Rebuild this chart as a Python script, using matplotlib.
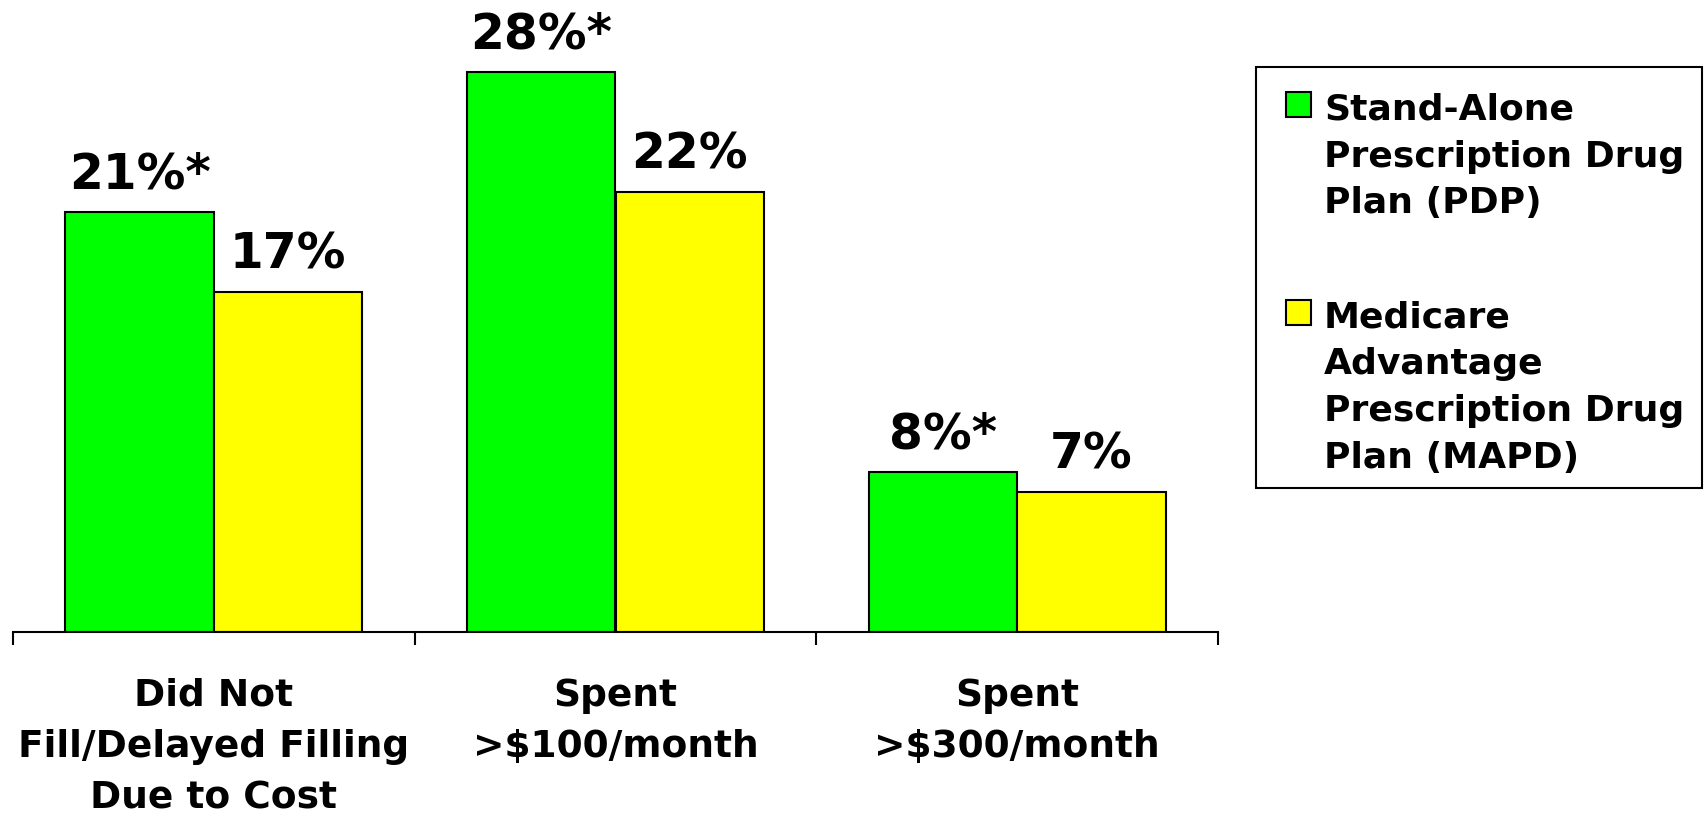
import matplotlib
matplotlib.use("Agg")
import matplotlib.pyplot as plt
from matplotlib.patches import Rectangle
import numpy as np

# Data
categories = ["Did Not\nFill/Delayed Filling\nDue to Cost",
              "Spent\n>\\$100/month",
              "Spent\n>\\$300/month"]
series_names = ["Stand-Alone\nPrescription Drug\nPlan (PDP)",
                "Medicare\nAdvantage\nPrescription Drug\nPlan (MAPD)"]
pdp_values = [21, 28, 8]
mapd_values = [17, 22, 7]
pdp_marks = ["*", "*", "*"]
mapd_marks = ["", "", ""]
colors = ["#00FF00", "#FFFF00"]

W, H = 1704, 815
plt.rcParams["font.family"] = "DejaVu Sans"
plt.rcParams["font.weight"] = "bold"

fig = plt.figure(figsize=(W / 100, H / 100), dpi=100)
ax = fig.add_axes([13 / W, 183 / H, 1205 / W, 600 / H])

x = np.arange(len(categories))
bw = 0.37
series = [(pdp_values, pdp_marks), (mapd_values, mapd_marks)]
for i, (vals, marks) in enumerate(series):
    pos = x + (i - 0.5) * bw
    bars = ax.bar(pos, vals, width=bw, color=colors[i], edgecolor="black",
                  linewidth=1.5, zorder=2)
    for b, v, m in zip(bars, vals, marks):
        ax.annotate(f"{v}%{m}", (b.get_x() + b.get_width() / 2, v),
                    xytext=(0, 17), textcoords="offset points",
                    ha="center", va="baseline", fontsize=35,
                    fontweight="bold")

ax.set_xlim(-0.5, len(categories) - 0.5)
ax.set_ylim(0, 30)
for s in ["top", "right", "left"]:
    ax.spines[s].set_visible(False)
ax.spines["bottom"].set_linewidth(1.5)
ax.set_yticks([])
ax.set_xticks(x)
ax.set_xticklabels(categories, fontsize=27, fontweight="bold", linespacing=1.55)
ax.tick_params(axis="x", which="major", length=0, pad=33)
ax.set_xticks(np.arange(len(categories) + 1) - 0.5, minor=True)
ax.tick_params(axis="x", which="minor", length=9.5, width=1.5, direction="out")

# Legend box
tf = fig.transFigure
fig.patches.append(Rectangle((1256 / W, 1 - 488 / H), (1702 - 1256) / W,
                             (488 - 67) / H, transform=tf, fill=False,
                             edgecolor="black", linewidth=1.5))
first_baselines = [120, 327.7]
line_step = 46.7
for i, name in enumerate(series_names):
    y0 = first_baselines[i]
    fig.patches.append(Rectangle((1286 / W, 1 - (y0 - 3) / H), 25 / W, 25 / H,
                                 transform=tf, facecolor=colors[i],
                                 edgecolor="black", linewidth=1.5))
    for j, line in enumerate(name.split("\n")):
        fig.text(1324 / W, 1 - (y0 + j * line_step) / H, line, fontsize=26,
                 fontweight="bold", ha="left", va="baseline")

fig.savefig("out.png", dpi=100)
